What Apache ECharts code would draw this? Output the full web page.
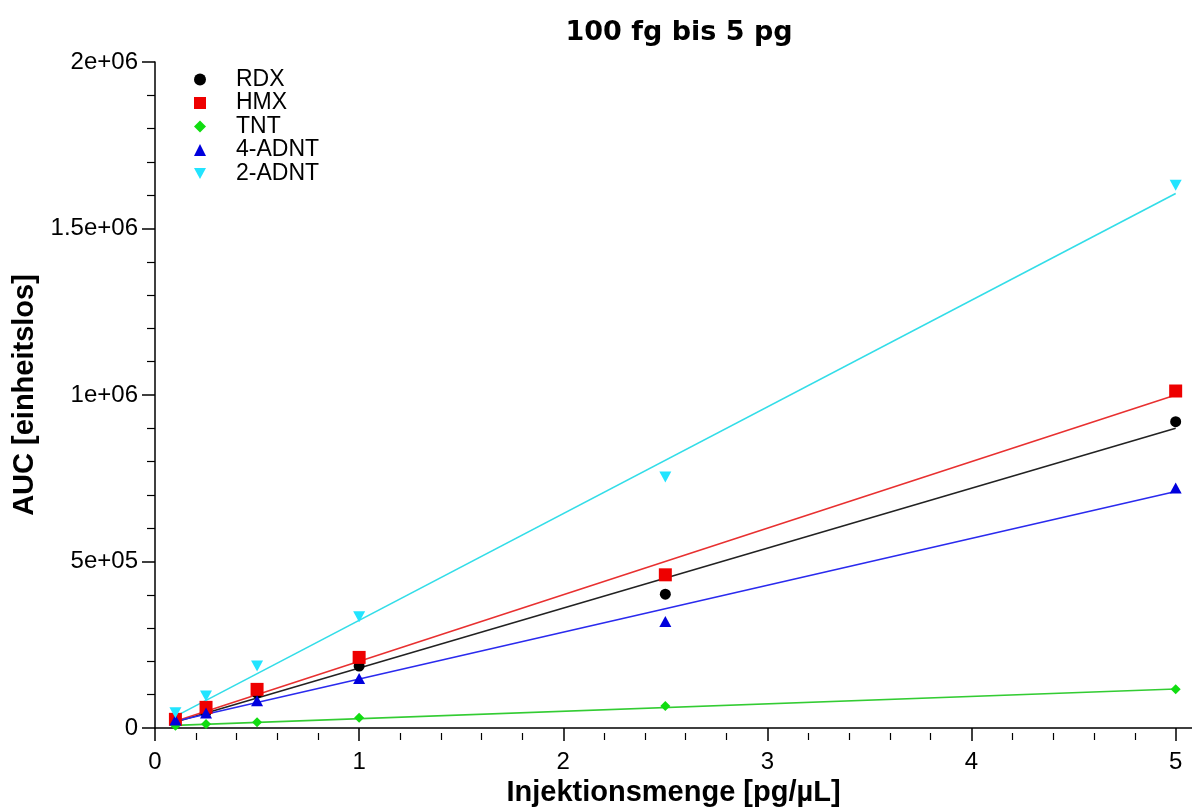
<!DOCTYPE html>
<html>
<head>
<meta charset="utf-8">
<script src="https://cdn.jsdelivr.net/npm/echarts@6/dist/echarts.min.js"></script>
<style>
html,body{margin:0;padding:0;background:#fff;}
#chart{width:1192px;height:807px;}
</style>
</head>
<body>
<div id="chart"></div>
<script>
// ---- data ----
const xValues = [0.1, 0.25, 0.5, 1, 2.5, 5];
const rdx   = [18000, 48000, 105000, 186000, 402000, 920000];
const hmx   = [26000, 62000, 116000, 212000, 460000, 1012000];
const tnt   = [7000, 12000, 17000, 31000, 66000, 116000];
const adnt4 = [24000, 45000, 82000, 149000, 320000, 721000];
const adnt2 = [46000, 96000, 186000, 334000, 754000, 1630000];

// fitted calibration lines: [x, y] end points
const fitX = [0.1, 5];
const rdxFit   = [18000, 900000];
const hmxFit   = [20000, 1000000];
const tntFit   = [8000, 117000];
const adnt4Fit = [20000, 710000];
const adnt2Fit = [35000, 1605000];

const yTicks = [0, 500000, 1000000, 1500000, 2000000];
const yTickLabels = ['0', '5e+05', '1e+06', '1.5e+06', '2e+06'];
const xMajorTicks = [0, 1, 2, 3, 4, 5];
const xMinorTicks = [0.2,0.4,0.6,0.8,1.2,1.4,1.6,1.8,2.2,2.4,2.6,2.8,3.2,3.4,3.6,3.8,4.2,4.4,4.6,4.8];

const names = ['RDX', 'HMX', 'TNT', '4-ADNT', '2-ADNT'];
const values = [rdx, hmx, tnt, adnt4, adnt2];
const fits = [rdxFit, hmxFit, tntFit, adnt4Fit, adnt2Fit];

// ---- styles ----
const markerColors = ['#000000', '#ee0000', '#11dd11', '#0000dd', '#22e4ff'];
const lineColors   = ['#222222', '#e83030', '#33cc33', '#2a2aee', '#33dde8'];
const downTri = 'path://M0,0L20,0L10,18Z';
const symbols = ['circle', 'rect', 'diamond', 'triangle', downTri];
const symbolSizes = [11, 13, [10, 10], [12, 11], [12, 11]];
const legendIcons = ['circle', 'rect', 'diamond', 'triangle', downTri];

const chart = echarts.init(document.getElementById('chart'));

const series = [];
names.forEach((n, i) => {
  series.push({
    name: n + ' fit',
    type: 'line',
    data: fitX.map((x, k) => [x, fits[i][k]]),
    showSymbol: false,
    symbol: 'none',
    silent: true,
    lineStyle: { color: lineColors[i], width: 1.6 },
    z: 2,
    animation: false
  });
});
names.forEach((n, i) => {
  series.push({
    name: n,
    type: 'scatter',
    data: xValues.map((x, k) => [x, values[i][k]]),
    symbol: symbols[i],
    symbolSize: symbolSizes[i],
    itemStyle: { color: markerColors[i], opacity: 1 },
    z: 3,
    animation: false
  });
});

const font = 'Liberation Sans, Arial, sans-serif';

const option = {
  backgroundColor: '#ffffff',
  animation: false,
  title: {
    text: '100 fg bis 5 pg',
    left: 674,
    textAlign: 'center',
    top: 14,
    textStyle: { fontFamily: 'DejaVu Sans', fontWeight: 'bold', fontSize: 27, color: '#000' }
  },
  legend: {
    orient: 'vertical',
    left: 189,
    top: 63,
    itemWidth: 12,
    itemHeight: 12,
    itemGap: 0.5,
    data: names.map((n, i) => ({ name: n, icon: legendIcons[i] })),
    textStyle: { fontFamily: font, fontSize: 23, lineHeight: 21, color: '#000', padding: [0, 0, 0, 25] },
    selectedMode: false
  },
  grid: { left: 155, right: 0, top: 62, bottom: 79, containLabel: false, outerBoundsMode: 'none' },
  xAxis: [
    {
      type: 'value',
      min: 0,
      max: 5.08,
      position: 'bottom',
      offset: 5,
      name: 'Injektionsmenge [pg/µL]',
      nameLocation: 'middle',
      nameGap: 42,
      nameTextStyle: { fontFamily: font, fontWeight: 'bold', fontSize: 29, color: '#000' },
      axisLine: { show: true, lineStyle: { color: '#000', width: 1.5 } },
      axisTick: { show: true, length: 13, customValues: xMajorTicks, lineStyle: { color: '#000', width: 1.5 } },
      axisLabel: { show: true, customValues: xMajorTicks, margin: 17, fontFamily: font, fontSize: 24, color: '#000' },
      splitLine: { show: false }
    },
    {
      type: 'value',
      min: 0,
      max: 5.08,
      position: 'bottom',
      offset: 5,
      axisLine: { show: false },
      axisTick: { show: true, length: 7, customValues: xMinorTicks, lineStyle: { color: '#000', width: 1.2 } },
      axisLabel: { show: false },
      splitLine: { show: false }
    }
  ],
  yAxis: {
    type: 'value',
    min: 0,
    max: 2000000,
    interval: 500000,
    name: 'AUC [einheitslos]',
    nameLocation: 'middle',
    nameGap: 108,
    nameRotate: 90,
    nameTextStyle: { fontFamily: font, fontWeight: 'bold', fontSize: 29, color: '#000' },
    axisLine: { show: true, lineStyle: { color: '#000', width: 1.5 } },
    axisTick: { show: true, length: 13, lineStyle: { color: '#000', width: 1.5 } },
    minorTick: { show: true, splitNumber: 5, length: 8, lineStyle: { color: '#000', width: 1.2 } },
    axisLabel: {
      margin: 17,
      fontFamily: font,
      fontSize: 24,
      color: '#000',
      formatter: function (v) {
        const idx = yTicks.indexOf(v);
        return idx >= 0 ? yTickLabels[idx] : '';
      }
    },
    splitLine: { show: false },
    minorSplitLine: { show: false }
  },
  series: series
};
chart.setOption(option);
</script>
</body>
</html>
